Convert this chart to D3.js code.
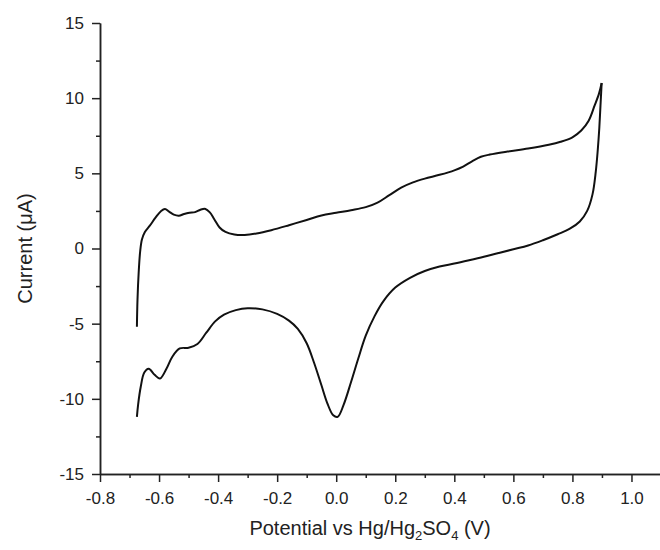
<!DOCTYPE html>
<html>
<head>
<meta charset="utf-8">
<script src="https://cdn.jsdelivr.net/npm/d3@7"></script>
<style>
  html, body { margin: 0; padding: 0; background: #fff; }
  svg { display: block; }
</style>
</head>
<body>
<div id="chart"></div>
<script>
// anodic sweep: from -0.675 V up to the vertex at 0.9 V
const forwardPotential = [-0.675, -0.673, -0.669, -0.664, -0.658, -0.648, -0.632, -0.612, -0.593, -0.58, -0.566, -0.55, -0.533, -0.515, -0.497, -0.478, -0.46, -0.443, -0.428, -0.413, -0.395, -0.375, -0.345, -0.31, -0.27, -0.22, -0.16, -0.1, -0.05, 0.0, 0.05, 0.1, 0.14, 0.18, 0.22, 0.26, 0.3, 0.35, 0.4, 0.43, 0.46, 0.49, 0.52, 0.58, 0.65, 0.72, 0.76, 0.8, 0.83, 0.855, 0.875, 0.89, 0.899];
const forwardCurrent = [-5.2, -3.4, -1.6, -0.2, 0.6, 1.1, 1.5, 2.05, 2.5, 2.63, 2.45, 2.25, 2.18, 2.3, 2.38, 2.42, 2.58, 2.63, 2.4, 1.95, 1.4, 1.1, 0.93, 0.9, 1.0, 1.22, 1.55, 1.9, 2.2, 2.38, 2.55, 2.75, 3.05, 3.55, 4.05, 4.4, 4.65, 4.9, 5.2, 5.45, 5.8, 6.1, 6.25, 6.45, 6.65, 6.9, 7.1, 7.4, 7.85, 8.5, 9.5, 10.3, 11.01];

// cathodic sweep: from the vertex back down to -0.675 V
const reversePotential = [0.899, 0.895, 0.891, 0.886, 0.879, 0.868, 0.85, 0.825, 0.79, 0.75, 0.7, 0.65, 0.6, 0.55, 0.5, 0.45, 0.4, 0.35, 0.3, 0.25, 0.2, 0.16, 0.13, 0.1, 0.075, 0.05, 0.025, 0.005, -0.01, -0.03, -0.05, -0.075, -0.1, -0.13, -0.16, -0.2, -0.25, -0.3, -0.34, -0.38, -0.41, -0.44, -0.47, -0.5, -0.53, -0.555, -0.575, -0.597, -0.615, -0.635, -0.65, -0.662, -0.671, -0.675];
const reverseCurrent = [11.01, 9.5, 8.0, 6.6, 5.1, 3.6, 2.5, 1.8, 1.3, 0.95, 0.55, 0.2, -0.05, -0.3, -0.55, -0.78, -1.0, -1.2, -1.5, -1.95, -2.6, -3.5, -4.5, -5.8, -7.3, -8.9, -10.4, -11.2, -11.1, -10.3, -9.1, -7.6, -6.3, -5.35, -4.8, -4.35, -4.05, -3.97, -4.1, -4.4, -4.85, -5.6, -6.35, -6.6, -6.65, -7.2, -8.0, -8.65, -8.4, -8.0, -8.25, -9.2, -10.4, -11.2];

const xMajorTicks = [-0.8, -0.6, -0.4, -0.2, 0.0, 0.2, 0.4, 0.6, 0.8, 1.0];
const xMinorTicks = [-0.7, -0.5, -0.3, -0.1, 0.1, 0.3, 0.5, 0.7, 0.9];
const yMajorTicks = [-15, -10, -5, 0, 5, 10, 15];
const yMinorTicks = [-12.5, -7.5, -2.5, 2.5, 7.5, 12.5];

const width = 660;
const height = 550;
const font = 'Arial, "Liberation Sans", sans-serif';

const x = d3.scaleLinear().domain([-0.8, 1.1]).range([100, 661]);
const y = d3.scaleLinear().domain([-15, 15]).range([474, 23]);

// plain hyphen for negatives, like the source plot
const hyphen = (fmt) => (d) => fmt(d).replace('\u2212', '-');

const svg = d3.select('#chart')
  .append('svg')
  .attr('width', width)
  .attr('height', height);

svg.append('rect')
  .attr('width', width)
  .attr('height', height)
  .attr('fill', '#fff');

function styleAxis(g) {
  g.select('.domain').attr('stroke', '#222').attr('stroke-width', 1.5);
  g.selectAll('.tick line').attr('stroke', '#222').attr('stroke-width', 1.5);
  g.selectAll('.tick text')
    .attr('fill', '#222')
    .attr('font-family', font)
    .attr('font-size', 17);
}

// minor ticks first, majors on top
svg.append('g')
  .attr('transform', `translate(0,${y(-15)})`)
  .call(d3.axisBottom(x).tickValues(xMinorTicks).tickSize(4).tickSizeOuter(0).tickFormat(''))
  .call(styleAxis);

svg.append('g')
  .attr('transform', `translate(0,${y(-15)})`)
  .call(d3.axisBottom(x).tickValues(xMajorTicks).tickSize(8).tickSizeOuter(0).tickPadding(10).tickFormat(hyphen(d3.format('.1f'))))
  .call(styleAxis);

svg.append('g')
  .attr('transform', `translate(${x(-0.8)},0)`)
  .call(d3.axisLeft(y).tickValues(yMinorTicks).tickSize(4).tickSizeOuter(0).tickFormat(''))
  .call(styleAxis);

svg.append('g')
  .attr('transform', `translate(${x(-0.8)},0)`)
  .call(d3.axisLeft(y).tickValues(yMajorTicks).tickSize(8).tickSizeOuter(0).tickPadding(8).tickFormat(hyphen(d3.format('d'))))
  .call(styleAxis);

// axis titles
const xTitle = svg.append('text')
  .attr('x', 370)
  .attr('y', 535)
  .attr('text-anchor', 'middle')
  .attr('font-family', font)
  .attr('font-size', 20)
  .attr('fill', '#222');
xTitle.append('tspan').text('Potential vs Hg/Hg');
xTitle.append('tspan').attr('font-size', 13).attr('dy', 5).text('2');
xTitle.append('tspan').attr('dy', -5).text('SO');
xTitle.append('tspan').attr('font-size', 13).attr('dy', 5).text('4');
xTitle.append('tspan').attr('dy', -5).text(' (V)');

svg.append('text')
  .attr('transform', `translate(32,${y(0)}) rotate(-90)`)
  .attr('text-anchor', 'middle')
  .attr('font-family', font)
  .attr('font-size', 20)
  .attr('fill', '#222')
  .text('Current (\u03bcA)');

// voltammogram
const line = d3.line()
  .x((d) => x(d[0]))
  .y((d) => y(d[1]))
  .curve(d3.curveCatmullRom.alpha(0.5));

const sweeps = [
  d3.zip(forwardPotential, forwardCurrent),
  d3.zip(reversePotential, reverseCurrent),
];

svg.append('g')
  .selectAll('path')
  .data(sweeps)
  .join('path')
  .attr('d', line)
  .attr('fill', 'none')
  .attr('stroke', '#111')
  .attr('stroke-width', 2)
  .attr('stroke-linejoin', 'round');
</script>
</body>
</html>
